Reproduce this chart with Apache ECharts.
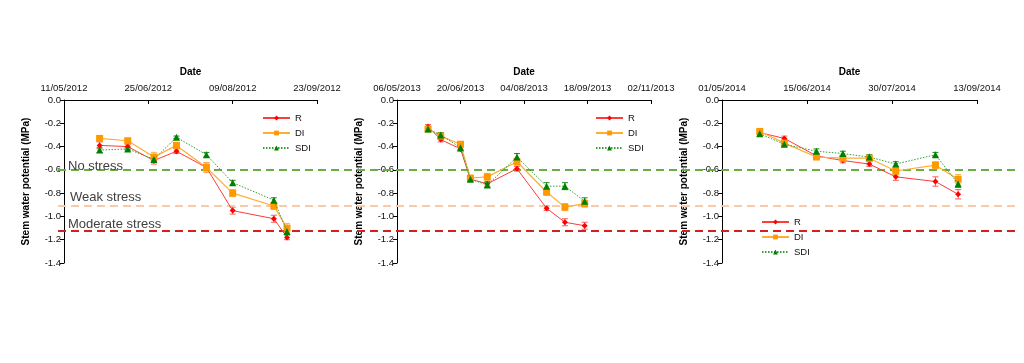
<!DOCTYPE html>
<html><head><meta charset="utf-8">
<script src="https://cdn.jsdelivr.net/npm/echarts@6/dist/echarts.min.js"></script>
<style>html,body{margin:0;padding:0;background:#fff}#c{width:1024px;height:363px}</style>
</head><body><div id="c"></div>
<script>
// ---- data ----
const axisStarts = ['2012-05-11', '2013-05-06', '2014-05-01'];
const axisSpans = [135, 180, 135];
const tickStepDays = 45;

const dates2012 = ['2012-05-30','2012-06-14','2012-06-28','2012-07-10','2012-07-26','2012-08-09','2012-08-31','2012-09-07'];
const R2012   = [-0.39,-0.40,-0.52,-0.44,-0.58,-0.95,-1.02,-1.18];
const DI2012  = [-0.33,-0.35,-0.49,-0.39,-0.58,-0.80,-0.91,-1.10];
const SDI2012 = [-0.43,-0.42,-0.51,-0.32,-0.47,-0.71,-0.86,-1.13];
const R2012err   = [0.03,0.02,0.03,0.02,0.04,0.03,0.03,0.02];
const DI2012err  = [0.02,0.02,0.04,0.02,0.04,0.03,0.03,0.04];
const SDI2012err = [0.02,0.01,0.02,0.01,0.02,0.02,0.02,0.02];

const dates2013 = ['2013-05-28','2013-06-06','2013-06-20','2013-06-27','2013-07-09','2013-07-30','2013-08-20','2013-09-02','2013-09-16'];
const R2013   = [-0.23,-0.34,-0.42,-0.68,-0.72,-0.59,-0.93,-1.05,-1.08];
const DI2013  = [-0.25,-0.31,-0.38,-0.67,-0.66,-0.53,-0.79,-0.92,-0.89];
const SDI2013 = [-0.25,-0.30,-0.41,-0.68,-0.73,-0.49,-0.74,-0.74,-0.87];
const R2013err   = [0.02,0.02,0.02,0.02,0.02,0.02,0.02,0.03,0.03];
const DI2013err  = [0.02,0.02,0.02,0.02,0.03,0.03,0.03,0.03,0.03];
const SDI2013err = [0.02,0.02,0.02,0.02,0.02,0.03,0.03,0.03,0.03];

const dates2014 = ['2014-05-21','2014-06-03','2014-06-20','2014-07-04','2014-07-18','2014-08-01','2014-08-22','2014-09-03'];
const R2014   = [-0.28,-0.33,-0.48,-0.52,-0.55,-0.66,-0.70,-0.81];
const DI2014  = [-0.27,-0.37,-0.49,-0.50,-0.50,-0.61,-0.56,-0.68];
const SDI2014 = [-0.29,-0.38,-0.44,-0.46,-0.49,-0.55,-0.47,-0.72];
const R2014err   = [0.02,0.02,0.02,0.02,0.02,0.03,0.04,0.04];
const DI2014err  = [0.02,0.02,0.02,0.02,0.02,0.03,0.03,0.04];
const SDI2014err = [0.02,0.02,0.02,0.02,0.02,0.02,0.02,0.03];

const treatmentNames = ['R', 'DI', 'SDI'];
const stressLevels = [-0.60, -0.91, -1.12];
const stressLabels = ['No stress', 'Weak stress', 'Moderate stress'];
const yTitle = 'Stem water potential (MPa)';
const xTitle = 'Date';

// ---- helpers ----
const DAY = 86400000;
function toMs(s){ const p = s.split('-').map(Number); return Date.UTC(p[0], p[1]-1, p[2]); }
function dayOffset(s, start){ return Math.round((toMs(s) - toMs(start)) / DAY); }
function fmtDate(start, v){
  const d = new Date(toMs(start) + v * DAY);
  const dd = String(d.getUTCDate()).padStart(2,'0');
  const mm = String(d.getUTCMonth()+1).padStart(2,'0');
  return dd + '/' + mm + '/' + d.getUTCFullYear();
}

const panels = [
  {dates: dates2012, vals: [R2012, DI2012, SDI2012], errs: [R2012err, DI2012err, SDI2012err]},
  {dates: dates2013, vals: [R2013, DI2013, SDI2013], errs: [R2013err, DI2013err, SDI2013err]},
  {dates: dates2014, vals: [R2014, DI2014, SDI2014], errs: [R2014err, DI2014err, SDI2014err]}
];

const FONT = 'Liberation Sans, Arial, sans-serif';
const styles = [
  {line: '#ff3b3b', mark: '#ff0000', err: '#ff5a5a', symbol: 'diamond', size: 6, type: 'solid', width: 1},
  {line: '#ffad33', mark: '#ff9900', err: '#ffb347', symbol: 'rect', size: 7, type: 'solid', width: 1.2},
  {line: '#33a033', mark: '#008000', err: '#1f8a1f', symbol: 'triangle', size: 7, type: [1.5, 1.5], width: 1}
];

const gridPos = [
  {left: 64, top: 100, width: 253, height: 163},
  {left: 397, top: 100, width: 254, height: 163},
  {left: 722, top: 100, width: 255, height: 163},
  {left: 58, top: 100, width: 957, height: 163}
];

const xAxes = [], yAxes = [], series = [];
panels.forEach((p, i) => {
  const start = axisStarts[i];
  xAxes.push({
    gridIndex: i, type: 'value', position: 'top', min: 0, max: axisSpans[i], interval: tickStepDays,
    name: xTitle, nameLocation: 'middle', nameGap: 23,
    nameTextStyle: {fontFamily: FONT, fontWeight: 'bold', fontSize: 10, color: '#000'},
    axisLine: {show: true, onZero: false, lineStyle: {color: '#000', width: 1}},
    axisTick: {show: true, inside: true, length: 4, lineStyle: {color: '#000'}},
    axisLabel: {fontFamily: FONT, fontSize: 9.5, color: '#111', margin: 7, hideOverlap: false,
      showMinLabel: true, showMaxLabel: true, formatter: v => fmtDate(start, v)},
    splitLine: {show: false}
  });
  yAxes.push({
    gridIndex: i, type: 'value', min: -1.4, max: 0, interval: 0.2,
    name: yTitle, nameLocation: 'middle', nameGap: 33,
    nameTextStyle: {fontFamily: FONT, fontWeight: 'bold', fontSize: 10, color: '#000'},
    axisLine: {show: true, onZero: false, lineStyle: {color: '#000', width: 1}},
    axisTick: {show: true, inside: false, length: 4, lineStyle: {color: '#000'}},
    axisLabel: {fontFamily: FONT, fontSize: 9.5, color: '#111', margin: 3, formatter: v => v.toFixed(1)},
    splitLine: {show: false}
  });
  const xs = p.dates.map(d => dayOffset(d, start));
  treatmentNames.forEach((name, k) => {
    const st = styles[k];
    series.push({
      name: name, type: 'line', xAxisIndex: i, yAxisIndex: i, z: 5 + k,
      data: xs.map((x, j) => [x, p.vals[k][j]]),
      symbol: st.symbol, symbolSize: st.size, showSymbol: true,
      itemStyle: {color: st.mark},
      lineStyle: {color: st.line, width: st.width, type: st.type},
      animation: false
    });
    series.push({
      name: name + ' error', type: 'custom', xAxisIndex: i, yAxisIndex: i, z: 4 + k,
      data: xs.map((x, j) => [x, p.vals[k][j], p.errs[k][j]]),
      renderItem: (params, api) => {
        const x = api.value(0), v = api.value(1), e = api.value(2);
        const a = api.coord([x, v + e]), b = api.coord([x, v - e]);
        const hw = 3;
        const s = {stroke: st.err, lineWidth: 1};
        return {type: 'group', children: [
          {type: 'line', shape: {x1: a[0], y1: a[1], x2: b[0], y2: b[1]}, style: s},
          {type: 'line', shape: {x1: a[0]-hw, y1: a[1], x2: a[0]+hw, y2: a[1]}, style: s},
          {type: 'line', shape: {x1: b[0]-hw, y1: b[1], x2: b[0]+hw, y2: b[1]}, style: s}
        ]};
      },
      animation: false, silent: true
    });
  });
});

// overlay grid for stress thresholds
xAxes.push({gridIndex: 3, type: 'value', min: 0, max: 1, show: false});
yAxes.push({gridIndex: 3, type: 'value', min: -1.4, max: 0, show: false});
const stressColors = ['#6aad45', '#f9c9a8', '#d42020'];
const labelDist = [[10, -3], [12, 2], [10, -1]];
series.push({
  name: 'stress', type: 'line', xAxisIndex: 3, yAxisIndex: 3, data: [], z: 1, silent: true,
  markLine: {
    symbol: 'none', silent: true, animation: false,
    data: stressLevels.map((lv, i) => ({
      yAxis: lv,
      lineStyle: {color: stressColors[i], type: [8, 5], width: 2},
      label: {show: true, formatter: stressLabels[i], position: 'insideStartTop',
        distance: labelDist[i], fontFamily: FONT, fontSize: 13, color: '#404040'}
    }))
  }
});

const legendBase = {
  data: treatmentNames, orient: 'vertical', itemWidth: 27, itemHeight: 6, itemGap: 5,
  textStyle: {fontFamily: FONT, fontSize: 9.5, color: '#111'}, selectedMode: false
};
const legends = [
  Object.assign({}, legendBase, {left: 257, top: 108}),
  Object.assign({}, legendBase, {left: 590, top: 108}),
  Object.assign({}, legendBase, {left: 756, top: 212})
];

const chart = echarts.init(document.getElementById('c'), null, {renderer: 'canvas'});
chart.setOption({
  backgroundColor: '#fff', animation: false,
  grid: gridPos, xAxis: xAxes, yAxis: yAxes, legend: legends, series: series
});
</script></body></html>
